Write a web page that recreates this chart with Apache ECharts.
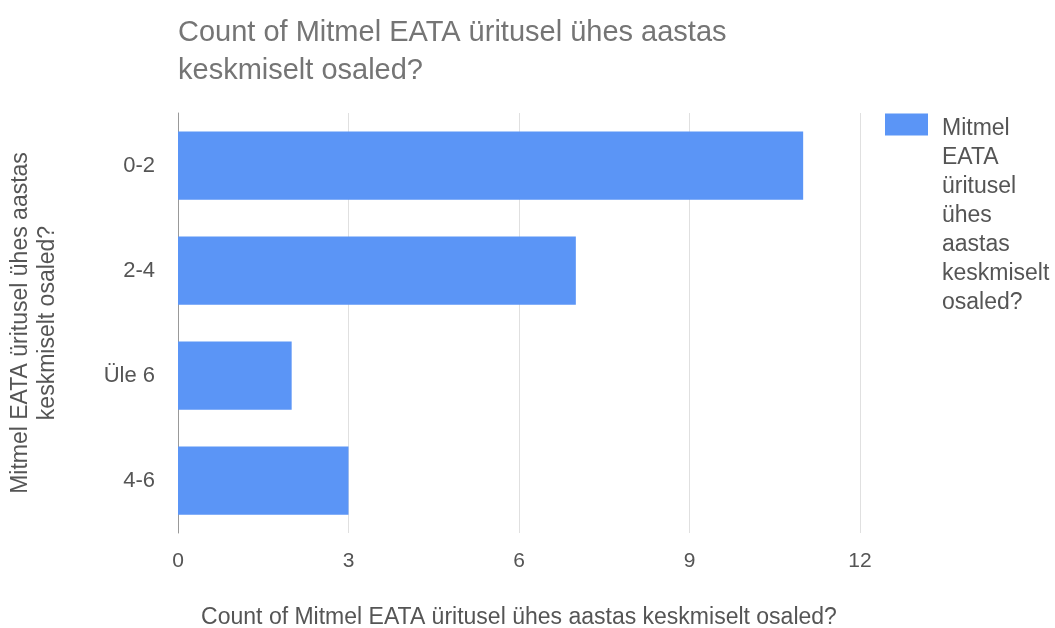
<!DOCTYPE html>
<html>
<head>
<meta charset="utf-8">
<script src="https://cdn.jsdelivr.net/npm/echarts@6/dist/echarts.min.js"></script>
<style>
  html, body { margin: 0; padding: 0; background: #fff; }
  #main { width: 1055px; height: 628px; }
</style>
</head>
<body>
<div id="main"></div>
<script>
var categories = ['0-2', '2-4', 'Üle 6', '4-6'];
var counts = [11, 7, 2, 3];
var seriesName = 'Mitmel EATA üritusel ühes aastas keskmiselt osaled?';
var xTicks = [0, 3, 6, 9, 12];

var font = '"Liberation Sans", Arial, sans-serif';

var option = {
  backgroundColor: '#fff',
  textStyle: { fontFamily: font },
  title: {
    text: 'Count of Mitmel EATA üritusel ühes aastas\nkeskmiselt osaled?',
    left: 178,
    top: 14,
    padding: 0,
    textStyle: { fontSize: 29, fontWeight: 'normal', color: '#757575', lineHeight: 38, fontFamily: font }
  },
  legend: {
    orient: 'vertical',
    left: 885,
    top: -68,
    padding: 0,
    itemWidth: 43,
    itemHeight: 22,
    itemGap: 0,
    icon: 'rect',
    data: [seriesName],
    // spacer line on top so the wrapped words start beside the swatch
    formatter: function (name) {
      return '{s| }\n' + name.split(' ').map(function (w) { return '{a|' + w + '}'; }).join('\n');
    },
    textStyle: {
      color: '#555',
      fontFamily: font,
      rich: {
        s: { fontSize: 10, lineHeight: 182, height: 182 },
        a: { fontSize: 23, lineHeight: 29, color: '#555', padding: [0, 0, 0, 9], fontFamily: font }
      }
    }
  },
  grid: { left: 178, right: 195, top: 113, bottom: 95, containLabel: false, outerBoundsMode: 'none' },
  xAxis: {
    type: 'value',
    min: xTicks[0],
    max: xTicks[xTicks.length - 1],
    interval: 3,
    name: 'Count of Mitmel EATA üritusel ühes aastas keskmiselt osaled?',
    nameLocation: 'middle',
    nameGap: 73,
    nameTextStyle: { fontSize: 23, color: '#555', fontFamily: font },
    axisLine: { show: false },
    axisTick: { show: false },
    axisLabel: { fontSize: 21, color: '#555', margin: 18, fontFamily: font },
    splitLine: { lineStyle: { color: '#e0e0e0', width: 1 } }
  },
  yAxis: {
    type: 'category',
    inverse: true,
    data: categories,
    name: 'Mitmel EATA üritusel ühes aastas\nkeskmiselt osaled?',
    nameLocation: 'middle',
    nameGap: 117,
    nameTextStyle: { fontSize: 23, color: '#555', lineHeight: 27, fontFamily: font },
    axisLine: { show: true, lineStyle: { color: '#999', width: 1 } },
    axisTick: { show: false },
    axisLabel: { fontSize: 22, color: '#555', margin: 23, fontFamily: font }
  },
  series: [{
    name: seriesName,
    type: 'bar',
    data: counts,
    barCategoryGap: '35%',
    itemStyle: { color: '#5b95f6' }
  }]
};

echarts.init(document.getElementById('main')).setOption(option);
</script>
</body>
</html>
